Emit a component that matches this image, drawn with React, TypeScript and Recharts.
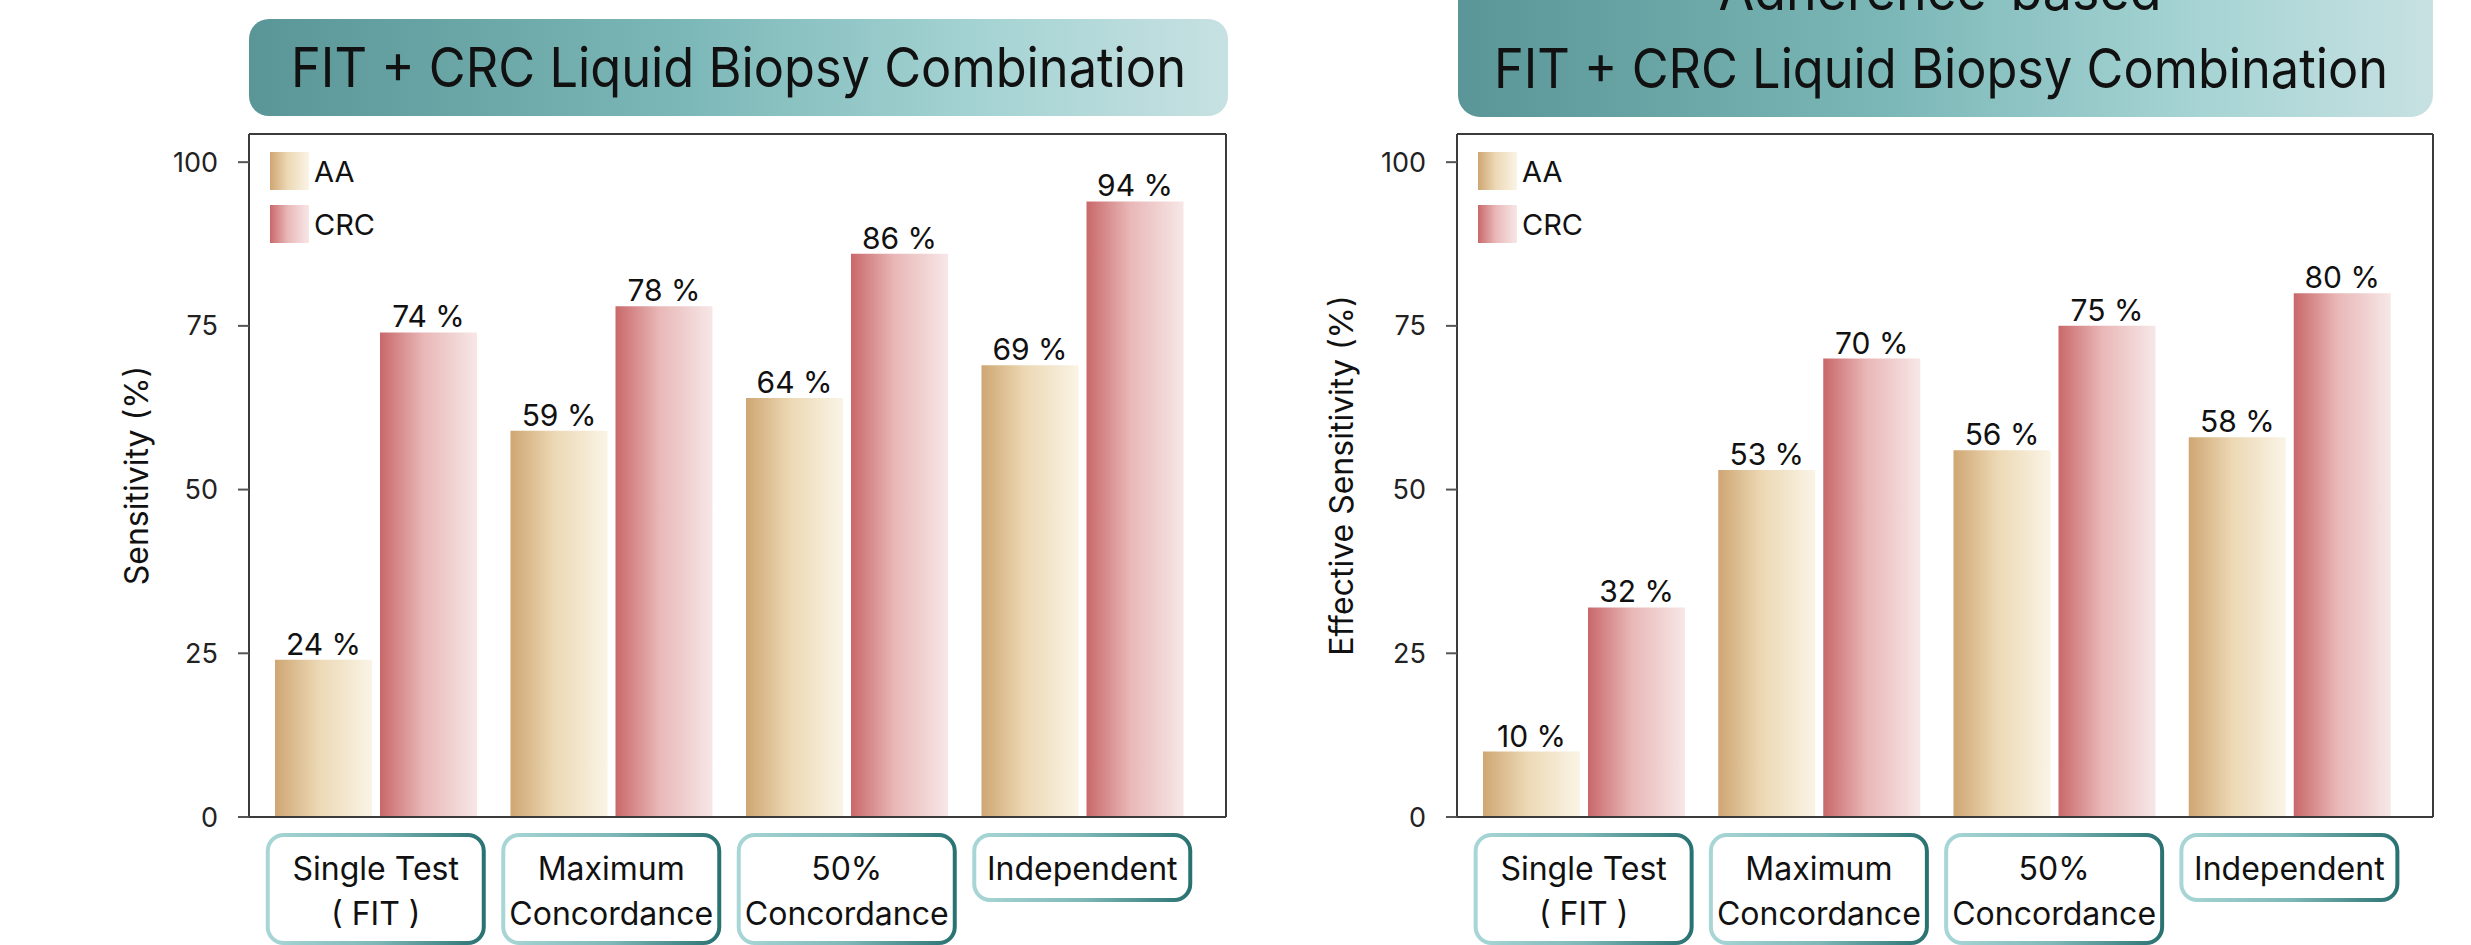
import React from 'react';
import { BarChart, Bar, XAxis, YAxis, Legend, LabelList, CartesianGrid } from 'recharts';

// Screening strategies on the x axis
const categories = ['Single Test (FIT)', 'Maximum Concordance', '50% Concordance', 'Independent'];
const categoryLines = [['Single Test', '( FIT )'], ['Maximum', 'Concordance'], ['50%', 'Concordance'], ['Independent']];
const yTicks = [0, 25, 50, 75, 100];

// Sensitivity (%) of the combined tests
const aaSensitivity = [24, 59, 64, 69];
const crcSensitivity = [74, 78, 86, 94];

// Effective sensitivity (%) once adherence is taken into account
const aaEffective = [10, 53, 56, 58];
const crcEffective = [32, 70, 75, 80];

const FONT = 'Inter, "Noto Sans", sans-serif';
const AXIS = { stroke: '#3b3b3b', strokeWidth: 2 };
const PLOT_TOP = 134;

const buildRows = (aa: number[], crc: number[]) =>
  categories.map((name, i) => ({ name, AA: aa[i], CRC: crc[i] }));

const swatches: Record<string, string> = {
  AA: 'linear-gradient(to right, #cfa673, #ecd8b4 45%, #faf4e6)',
  CRC: 'linear-gradient(to right, #c9686a, #e9b7b7 45%, #f7e7e7)',
};

const LegendBox = () => (
  <div style={{ fontFamily: FONT }}>
    {['AA', 'CRC'].map((k, i) => (
      <div key={k} style={{ display: 'flex', alignItems: 'center', marginTop: i ? 15 : 0 }}>
        <div style={{ width: 39, height: 38, background: swatches[k] }} />
        <span style={{ fontSize: 29, marginLeft: 5, color: '#111' }}>{k}</span>
      </div>
    ))}
  </div>
);

// Category name drawn inside a rounded box under each group
const CategoryTick = (props: any) => {
  const { x, y, payload, prefix } = props;
  const lines = categoryLines[payload.index] || [payload.value];
  const h = lines.length > 1 ? 108 : 65;
  return (
    <g>
      <rect x={x - 108} y={y + 18} width={216} height={h} rx={16} fill="#fff" stroke={`url(#${prefix}-box)`} strokeWidth={4} />
      {lines.map((t: string, i: number) => (
        <text key={i} x={x} y={y + 63 + i * 45} textAnchor="middle" fontSize={32} fontFamily={FONT} fill="#111">
          {t}
        </text>
      ))}
    </g>
  );
};

type PanelProps = {
  prefix: string;
  aa: number[];
  crc: number[];
  yLabel: string;
  width: number;
  axisWidth: number;
  labelOffset: number;
  marginRight: number;
  legendLeft: number;
};

const Panel = ({ prefix, aa, crc, yLabel, width, axisWidth, labelOffset, marginRight, legendLeft }: PanelProps) => (
  <BarChart
    width={width}
    height={945}
    data={buildRows(aa, crc)}
    margin={{ top: PLOT_TOP, right: marginRight, bottom: 0, left: 0 }}
    barSize={97}
    barGap={8}
  >
    <defs>
      <linearGradient id={`${prefix}-aa`} x1="0" y1="0" x2="1" y2="0">
        <stop offset="0%" stopColor="#cfa673" />
        <stop offset="45%" stopColor="#ecd8b4" />
        <stop offset="100%" stopColor="#faf4e6" />
      </linearGradient>
      <linearGradient id={`${prefix}-crc`} x1="0" y1="0" x2="1" y2="0">
        <stop offset="0%" stopColor="#c9686a" />
        <stop offset="45%" stopColor="#e9b7b7" />
        <stop offset="100%" stopColor="#f7e7e7" />
      </linearGradient>
      <linearGradient id={`${prefix}-box`} x1="0" y1="0" x2="1" y2="0">
        <stop offset="0%" stopColor="#a8d6d6" />
        <stop offset="50%" stopColor="#7fb8b8" />
        <stop offset="100%" stopColor="#2a7272" />
      </linearGradient>
    </defs>
    {/* top and right edges of the plot frame */}
    <CartesianGrid
      horizontalPoints={[PLOT_TOP]}
      verticalPoints={[width - marginRight]}
      stroke="#3b3b3b"
      strokeWidth={2}
      fill="none"
    />
    <XAxis
      dataKey="name"
      height={128}
      interval={0}
      padding={{ left: 9, right: 26 }}
      axisLine={AXIS}
      tickLine={false}
      tickSize={0}
      tickMargin={0}
      tick={<CategoryTick prefix={prefix} />}
    />
    <YAxis
      domain={[0, 104.3]}
      ticks={yTicks}
      width={axisWidth}
      tickSize={11}
      tickMargin={20}
      axisLine={AXIS}
      tickLine={{ stroke: '#555', strokeWidth: 2 }}
      tick={{ fontSize: 27, fill: '#222', fontFamily: FONT }}
      label={{
        value: yLabel,
        angle: -90,
        position: 'insideLeft',
        offset: labelOffset,
        style: { textAnchor: 'middle', fontSize: 32, fill: '#111', fontFamily: FONT },
      }}
    />
    <Legend
      layout="vertical"
      align="center"
      verticalAlign="middle"
      content={<LegendBox />}
      wrapperStyle={{ left: legendLeft, top: 152, width: 'auto' }}
    />
    <Bar dataKey="AA" fill={`url(#${prefix}-aa)`} isAnimationActive={false}>
      <LabelList dataKey="AA" position="top" offset={5} formatter={(v: any) => `${v} %`} fontSize={30} fill="#111" fontFamily={FONT} />
    </Bar>
    <Bar dataKey="CRC" fill={`url(#${prefix}-crc)`} isAnimationActive={false}>
      <LabelList dataKey="CRC" position="top" offset={5} formatter={(v: any) => `${v} %`} fontSize={30} fill="#111" fontFamily={FONT} />
    </Bar>
  </BarChart>
);

const TITLE = 'FIT + CRC Liquid Biopsy Combination';

const Banners = () => (
  <svg width={2471} height={945} style={{ position: 'absolute', left: 0, top: 0 }}>
    <defs>
      <linearGradient id="banner-fill" x1="0" y1="0" x2="1" y2="0">
        <stop offset="0%" stopColor="#5a9597" />
        <stop offset="45%" stopColor="#7db8b8" />
        <stop offset="75%" stopColor="#a5d3d3" />
        <stop offset="100%" stopColor="#c7e1e2" />
      </linearGradient>
    </defs>
    <rect x={249} y={19} width={979} height={97} rx={20} fill="url(#banner-fill)" />
    <text x={738.5} y={87} textAnchor="middle" fontSize={55} fontFamily={FONT} fill="#111" textLength={895} lengthAdjust="spacingAndGlyphs">
      {TITLE}
    </text>
    <rect x={1458} y={-80} width={975} height={197} rx={22} fill="url(#banner-fill)" />
    <text x={1940} y={10} textAnchor="middle" fontSize={55} fontFamily={FONT} fill="#111" textLength={443} lengthAdjust="spacingAndGlyphs">
      Adherence-based
    </text>
    <text x={1941} y={88} textAnchor="middle" fontSize={55} fontFamily={FONT} fill="#111" textLength={894} lengthAdjust="spacingAndGlyphs">
      {TITLE}
    </text>
  </svg>
);

export default function App() {
  return (
    <div style={{ position: 'absolute', left: 0, top: 0, width: 2471, height: 945, background: '#fff', overflow: 'hidden' }}>
      <Banners />
      <div style={{ position: 'absolute', left: 0, top: 0 }}>
        <Panel
          prefix="sens"
          aa={aaSensitivity}
          crc={crcSensitivity}
          yLabel="Sensitivity (%)"
          width={1240}
          axisWidth={249}
          labelOffset={137}
          marginRight={14}
          legendLeft={270}
        />
      </div>
      <div style={{ position: 'absolute', left: 1240, top: 0 }}>
        <Panel
          prefix="eff"
          aa={aaEffective}
          crc={crcEffective}
          yLabel="Effective Sensitivity (%)"
          width={1231}
          axisWidth={217}
          labelOffset={102}
          marginRight={38}
          legendLeft={238}
        />
      </div>
    </div>
  );
}
